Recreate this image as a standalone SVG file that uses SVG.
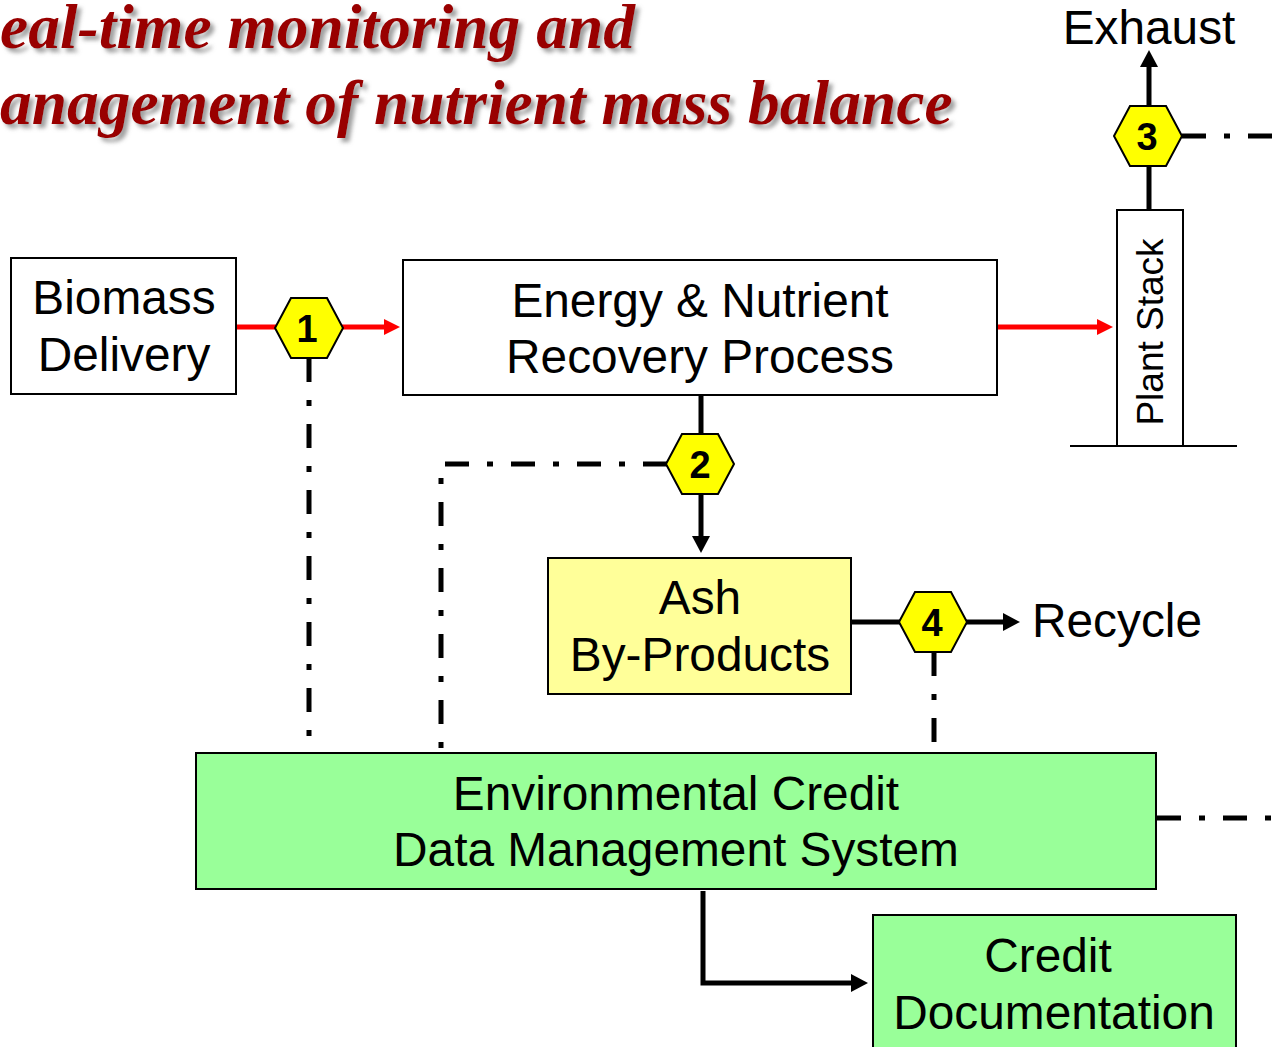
<svg xmlns="http://www.w3.org/2000/svg" width="1285" height="1047" viewBox="0 0 1285 1047">
<style>
.box{stroke:#000;stroke-width:2}
.lbl{font-family:"Liberation Sans",Arial,sans-serif;font-size:47.8px;fill:#000;text-anchor:middle}
.num{font-family:"Liberation Sans",Arial,sans-serif;font-size:38px;font-weight:bold;fill:#000;text-anchor:middle}
.title{font-family:"Liberation Serif","Times New Roman",serif;font-size:63.5px;font-weight:bold;font-style:italic;fill:#990000}
.solid{fill:none;stroke:#000;stroke-width:5}
.red{fill:none;stroke:#ff0000;stroke-width:5}
.dd{fill:none;stroke:#000;stroke-width:5;stroke-dasharray:24 18 6 18}
.hex{fill:#ffff00;stroke:#000;stroke-width:2}
</style>
<defs>
<filter id="sh" x="-5%" y="-20%" width="110%" height="140%">
<feDropShadow dx="4" dy="4" stdDeviation="2" flood-color="#777" flood-opacity="0.7"/>
</filter>
<marker id="ab" markerUnits="userSpaceOnUse" markerWidth="18" markerHeight="18" refX="0" refY="9" orient="auto"><path d="M0,0 L17,9 L0,18 z" fill="#000"/></marker>
<marker id="ar" markerUnits="userSpaceOnUse" markerWidth="18" markerHeight="18" refX="0" refY="8" orient="auto"><path d="M0,0 L16,8 L0,16 z" fill="#ff0000"/></marker>
<polygon id="hx" points="-34,0 -18,-30 18,-30 34,0 18,30 -18,30"/>
</defs>
<g id="title" filter="url(#sh)">
<text class="title" x="0" y="48">eal-time monitoring and</text>
<text class="title" x="0" y="124">anagement of nutrient mass balance</text>
</g>
<g id="connectors">
<path class="red" d="M236,327 H276"/>
<path class="red" d="M342,327 H384" marker-end="url(#ar)"/>
<path class="red" d="M997,327 H1097" marker-end="url(#ar)"/>
<path class="solid" d="M701,395 V435"/>
<path class="solid" d="M701,493 V536" marker-end="url(#ab)"/>
<path class="solid" d="M1149,210 V165"/>
<path class="solid" d="M1149,107 V67" marker-end="url(#ab)"/>
<path class="solid" d="M851,622 H900"/>
<path class="solid" d="M966,622 H1003" marker-end="url(#ab)"/>
<path class="solid" d="M703,891 V983 H851" marker-end="url(#ab)"/>
<path class="dd" d="M309,358 V752"/>
<path class="dd" d="M667,464 H441 V752"/>
<path class="dd" d="M934,652 V752"/>
<path class="dd" d="M1182,136 H1285"/>
<path class="dd" d="M1157,818 H1285"/>
<path d="M1070,446 H1237" stroke="#000" stroke-width="2"/>
</g>
<g id="biomass">
<rect class="box" x="11" y="258" width="225" height="136" fill="#fff"/>
<text class="lbl" x="124" y="314">Biomass</text>
<text class="lbl" x="124" y="371">Delivery</text>
</g>
<g id="energy">
<rect class="box" x="403" y="260" width="594" height="135" fill="#fff"/>
<text class="lbl" x="700" y="317">Energy &amp; Nutrient</text>
<text class="lbl" x="700" y="373">Recovery Process</text>
</g>
<g id="stack">
<rect class="box" x="1117" y="210" width="66" height="236" fill="#fff"/>
<text class="lbl" style="font-size:37px" transform="translate(1163,332) rotate(-90)">Plant Stack</text>
</g>
<g id="exhaust"><text class="lbl" x="1149" y="44">Exhaust</text></g>
<g id="ash">
<rect class="box" x="548" y="558" width="303" height="136" fill="#ffff99"/>
<text class="lbl" x="700" y="614">Ash</text>
<text class="lbl" x="700" y="671">By-Products</text>
</g>
<g id="recycle"><text class="lbl" x="1117" y="637">Recycle</text></g>
<g id="env">
<rect class="box" x="196" y="753" width="960" height="136" fill="#99ff99"/>
<text class="lbl" x="676" y="810">Environmental Credit</text>
<text class="lbl" x="676" y="866">Data Management System</text>
</g>
<g id="credit">
<rect class="box" x="873" y="915" width="363" height="140" fill="#99ff99"/>
<text class="lbl" x="1048" y="972">Credit</text>
<text class="lbl" x="1054" y="1029">Documentation</text>
</g>
<g id="hex1"><use href="#hx" class="hex" x="309" y="328"/><text class="num" x="307" y="342">1</text></g>
<g id="hex2"><use href="#hx" class="hex" x="700" y="464"/><text class="num" x="700" y="478">2</text></g>
<g id="hex3"><use href="#hx" class="hex" x="1148" y="136"/><text class="num" x="1147" y="150">3</text></g>
<g id="hex4"><use href="#hx" class="hex" x="933" y="622"/><text class="num" x="932" y="636">4</text></g>
</svg>
